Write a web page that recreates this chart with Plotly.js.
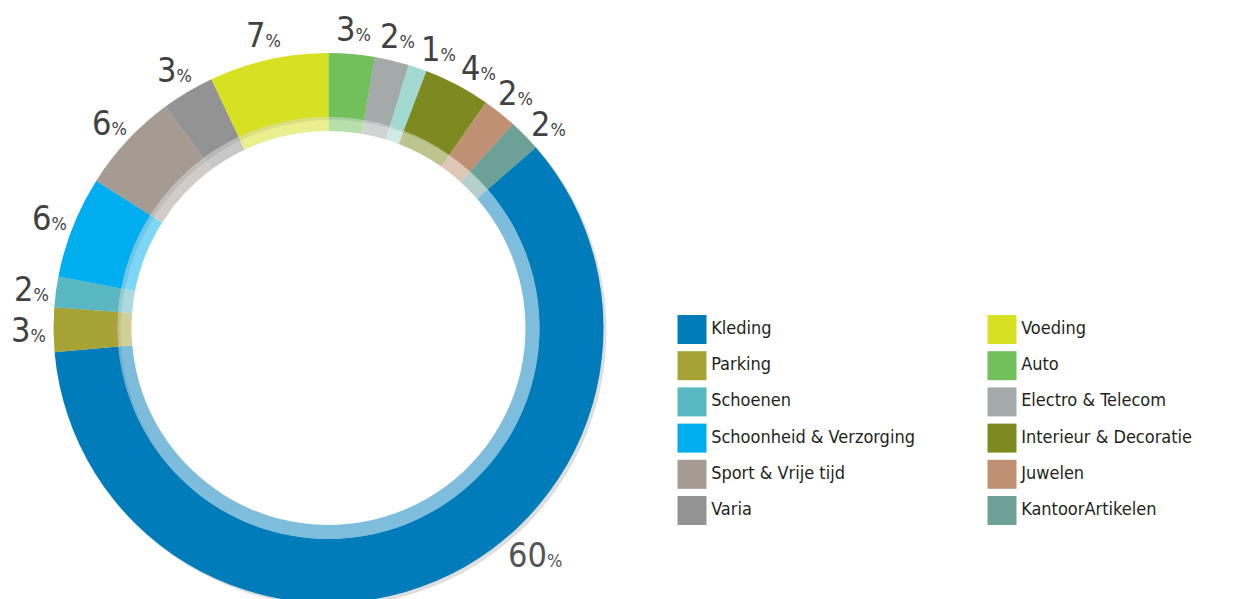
<!DOCTYPE html>
<html><head><meta charset="utf-8">
<script src="https://cdn.plot.ly/plotly-3.0.1.min.js"></script>
<style>html,body{margin:0;padding:0;overflow:hidden;background:#fff}#chart{width:1244px;height:620px}</style>
</head><body><div id="chart"></div>
<script>
// ---- data (clockwise from 12 o'clock) ----
const sliceLabels = ['Auto','Electro & Telecom','Overige','Interieur & Decoratie','Juwelen','KantoorArtikelen','Kleding','Parking','Schoenen','Schoonheid & Verzorging','Sport & Vrije tijd','Varia','Voeding'];
const sliceValues = [2.7, 2.0, 1.1, 3.9, 2.0, 1.9, 60.0, 2.6, 1.8, 6.0, 5.9, 3.1, 7.0];
const slicePercentText = ['3','2','1','4','2','2','60','3','2','6','6','3','7'];
const sliceColors = ['#72c05c','#a3aaa9','#a2d9d1','#7e8a1f','#c09072','#6da198','#007cba','#a5a236','#58b7c0','#00aeef','#a59b92','#939393','#d7e022'];
const legendItems = ['Kleding','Parking','Schoenen','Schoonheid & Verzorging','Sport & Vrije tijd','Varia','Voeding','Auto','Electro & Telecom','Interieur & Decoratie','Juwelen','KantoorArtikelen'];

// ---- geometry / style constants ----
const W = 1244, H = 620;
const CX = 328.5, CY = 328, R_OUT = 275, R_MID = 211, R_IN = 197, R_LABEL = 300;
const FONT = "'DejaVu Sans Condensed','Liberation Sans Narrow','DejaVu Sans',sans-serif";
// small angular nudges (degrees) for crowded labels, and the moved label of the big slice
const LABEL_NUDGE = {'Overige': 2.6, 'Interieur & Decoratie': 2.2, 'KantoorArtikelen': 1.7};
const BIG_LABEL = {name: 'Kleding', angle: 137.7, r: 307, color: '#555555'};

function dom(cx, cy, r) {
  return {x: [(cx - r) / W, (cx + r) / W], y: [1 - (cy + r) / H, 1 - (cy - r) / H]};
}

const shadow = {
  type: 'pie', values: [1], labels: ['shadow'], sort: false, hole: R_MID / R_OUT,
  domain: dom(CX + 3, CY + 3, R_OUT), marker: {colors: ['rgba(0,0,0,0.13)'], line: {width: 0}},
  textinfo: 'none', hoverinfo: 'skip', showlegend: false
};
const outer = {
  type: 'pie', values: sliceValues, labels: sliceLabels, sort: false, direction: 'clockwise', rotation: 0,
  hole: R_MID / R_OUT, domain: dom(CX, CY, R_OUT),
  marker: {colors: sliceColors, line: {width: 0}}, textinfo: 'none', hoverinfo: 'label+percent', showlegend: false
};
const inner = {
  type: 'pie', values: sliceValues, labels: sliceLabels, sort: false, direction: 'clockwise', rotation: 0,
  hole: R_IN / R_MID, domain: dom(CX, CY, R_MID), opacity: 0.5,
  marker: {colors: sliceColors, line: {width: 0}}, textinfo: 'none', hoverinfo: 'skip', showlegend: false
};

// legend drawn as a scatter of squares on its own axes
const colorOf = {};
sliceLabels.forEach((l, i) => colorOf[l] = sliceColors[i]);
const legendTrace = {
  type: 'scatter', mode: 'markers+text', xaxis: 'x2', yaxis: 'y2',
  x: legendItems.map((_, i) => Math.floor(i / 6)),
  y: legendItems.map((_, i) => i % 6),
  text: legendItems, textposition: 'middle right',
  textfont: {family: FONT, size: 18, color: '#231f20'},
  marker: {symbol: 'square', size: 29, color: legendItems.map(l => colorOf[l]), line: {width: 0}},
  hoverinfo: 'skip', showlegend: false, cliponaxis: false
};

// percentage labels around the ring
const total = sliceValues.reduce((a, b) => a + b, 0);
const annotations = [];
let cum = 0;
sliceValues.forEach((v, i) => {
  const frac = (cum + v / 2) / total;
  cum += v;
  let r = R_LABEL, ang = frac * 2 * Math.PI + (LABEL_NUDGE[sliceLabels[i]] || 0) * Math.PI / 180, col = '#414141';
  if (sliceLabels[i] === BIG_LABEL.name) { ang = BIG_LABEL.angle * Math.PI / 180; r = BIG_LABEL.r; col = BIG_LABEL.color; }
  const px = CX + r * Math.sin(ang), py = CY - r * Math.cos(ang);
  annotations.push({
    xref: 'paper', yref: 'paper', x: px / W, y: 1 - py / H, xanchor: 'center', yanchor: 'middle',
    showarrow: false, borderpad: 0, text: slicePercentText[i] + "<span style='font-size:18px'>%</span>",
    font: {family: FONT, size: 34, color: col}
  });
});

// legend axes: column 0 -> x=692px, column 1 -> x=1002px; rows start at y=329.5px, step 36.2px
const xs = 310, x0px = 692, xDomL = 0.5 * W;
const ys = 36.2, y0px = 329.5;
const layout = {
  width: W, height: H, margin: {l: 0, r: 0, t: 0, b: 0},
  paper_bgcolor: '#fff', plot_bgcolor: 'rgba(0,0,0,0)', showlegend: false,
  xaxis2: {domain: [0.5, 1], range: [(xDomL - x0px) / xs, (W - x0px) / xs], visible: false, fixedrange: true},
  yaxis2: {domain: [0, 1], range: [(H - y0px) / ys, -y0px / ys], visible: false, fixedrange: true},
  annotations: annotations
};
Plotly.newPlot('chart', [shadow, outer, inner, legendTrace], layout, {displayModeBar: false, staticPlot: true});
</script></body></html>
